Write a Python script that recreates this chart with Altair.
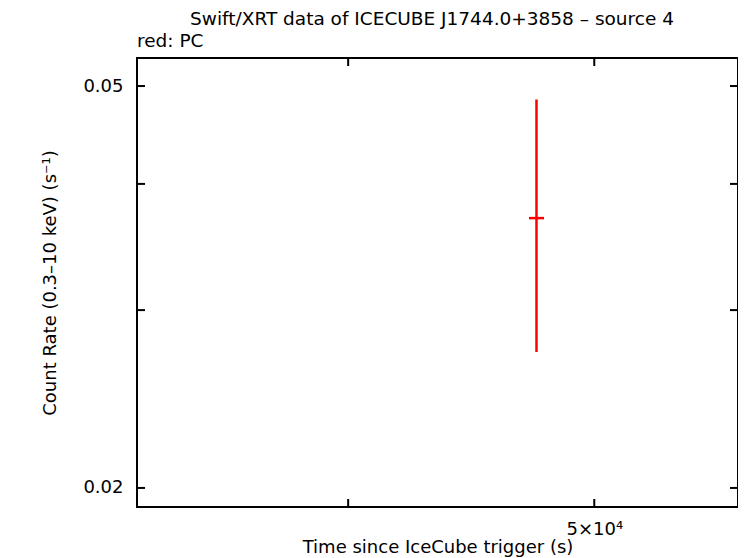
import altair as alt
import pandas as pd

# data
t_center = [47448.0]
t_lo = [47125.0]
t_hi = [47773.0]
rate = [0.0370]
rate_lo = [0.02727]
rate_hi = [0.04849]

x_ticks = [40000, 50000]
y_ticks = [0.02, 0.03, 0.04, 0.05]

title_text = "Swift/XRT data of ICECUBE J1744.0+3858 \u2013 source 4"
sub_text = "red: PC"
x_title = "Time since IceCube trigger (s)"
y_title = "Count Rate (0.3\u201310 keV) (s\u207b\u00b9)"

W, H = 601, 449
FONT = "DejaVu Sans"
FS = 18

df = pd.DataFrame({"t": t_center, "tlo": t_lo, "thi": t_hi,
                   "r": rate, "rlo": rate_lo, "rhi": rate_hi})

xscale = alt.Scale(type="log", domain=[33030, 56960], nice=False)
yscale = alt.Scale(type="log", domain=[0.01915, 0.0533], nice=False)

xaxis = alt.Axis(values=x_ticks, ticks=False, grid=False, domain=False,
                 labelExpr="datum.value == 50000 ? '5\u00d710\u2074' : ''",
                 labelFontSize=FS, labelFont=FONT, labelColor="black",
                 labelPadding=13, title=x_title,
                 titleFontSize=FS, titleFont=FONT, titleFontWeight="normal",
                 titleColor="black", titleY=45, titleBaseline="alphabetic")
yaxis = alt.Axis(values=y_ticks, ticks=False, grid=False, domain=False,
                 labelExpr="datum.value == 0.05 ? '0.05' : (datum.value == 0.02 ? '0.02' : '')",
                 labelFontSize=FS, labelFont=FONT, labelColor="black",
                 labelPadding=14, title=y_title,
                 titleFontSize=FS, titleFont=FONT, titleFontWeight="normal",
                 titleColor="black", titleX=-82, titleBaseline="alphabetic")

base = alt.Chart(df)

vbar = base.mark_rule(color="red", strokeWidth=2.5).encode(
    x=alt.X("t:Q", scale=xscale, axis=xaxis),
    y=alt.Y("rlo:Q", scale=yscale, axis=yaxis),
    y2="rhi:Q",
)
hbar = base.mark_rule(color="red", strokeWidth=2.5).encode(
    x=alt.X("tlo:Q", scale=xscale), x2="thi:Q",
    y=alt.Y("r:Q", scale=yscale),
)

xt = alt.Chart(pd.DataFrame({"v": x_ticks}))
yt = alt.Chart(pd.DataFrame({"v": y_ticks}))
tick_style = dict(color="black", strokeWidth=2)
bot = xt.mark_rule(**tick_style).encode(
    x=alt.X("v:Q", scale=xscale), y=alt.value(H - 8), y2=alt.value(H))
top = xt.mark_rule(**tick_style).encode(
    x=alt.X("v:Q", scale=xscale), y=alt.value(0), y2=alt.value(8))
left = yt.mark_rule(**tick_style).encode(
    y=alt.Y("v:Q", scale=yscale), x=alt.value(0), x2=alt.value(8))
right = yt.mark_rule(**tick_style).encode(
    y=alt.Y("v:Q", scale=yscale), x=alt.value(W - 8), x2=alt.value(W))

txt = alt.Chart(pd.DataFrame({"a": [0]}))
t1 = txt.mark_text(text=title_text, font=FONT, fontSize=18.5, color="black",
                   align="center", baseline="alphabetic").encode(
    x=alt.value(295), y=alt.value(-33))
t2 = txt.mark_text(text=sub_text, font=FONT, fontSize=18.5, color="black",
                   align="left", baseline="alphabetic").encode(
    x=alt.value(0), y=alt.value(-11))

chart = alt.layer(vbar, hbar, bot, top, left, right, t1, t2).properties(
    width=W, height=H,
    autosize=alt.AutoSizeParams(type="none"),
    padding={"left": 129, "top": 50, "right": 0, "bottom": 51},
).configure(background="white").configure_view(stroke="black", strokeWidth=2)

chart.save("out.html", embed_options={"renderer": "svg", "actions": False})
